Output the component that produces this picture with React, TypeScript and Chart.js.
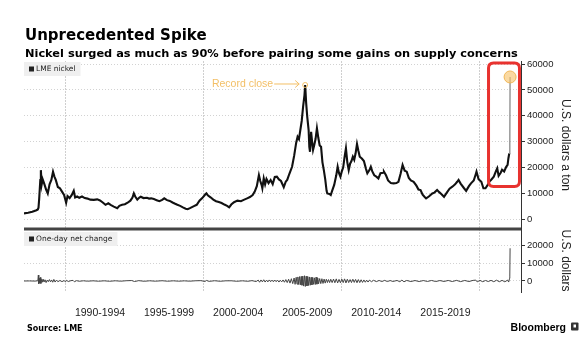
import React, { useEffect, useRef } from "react";
import { Chart, registerables } from "chart.js";

Chart.register(...registerables);

// ---------- data ----------
const priceYears = [
  1987.0, 1987.3, 1987.6, 1987.9, 1988.0, 1988.05, 1988.1, 1988.18, 1988.22, 1988.28,
  1988.35, 1988.45, 1988.6, 1988.72, 1988.85, 1988.98, 1989.1, 1989.2, 1989.3, 1989.45,
  1989.6, 1989.75, 1989.9, 1990.05, 1990.15, 1990.3, 1990.45, 1990.6, 1990.7, 1990.85,
  1991.0, 1991.2, 1991.4, 1991.6, 1991.8, 1992.05, 1992.3, 1992.5, 1992.7, 1992.9,
  1993.1, 1993.3, 1993.5, 1993.75, 1993.9, 1994.1, 1994.3, 1994.5, 1994.7, 1994.85,
  1994.95, 1995.05, 1995.2, 1995.35, 1995.45, 1995.65, 1995.9, 1996.05, 1996.2, 1996.4,
  1996.6, 1996.8, 1997.0, 1997.15, 1997.35, 1997.55, 1997.75, 1997.9, 1998.1, 1998.3,
  1998.5, 1998.7, 1998.85, 1999.05, 1999.3, 1999.5, 1999.7, 1999.9, 2000.1, 2000.2,
  2000.3, 2000.5, 2000.7, 2000.9, 2001.1, 2001.3, 2001.5, 2001.7, 2001.85, 2002.0,
  2002.2, 2002.45, 2002.7, 2002.9, 2003.15, 2003.35, 2003.55, 2003.7, 2003.85, 2004.0,
  2004.1, 2004.2, 2004.25, 2004.35, 2004.45, 2004.55, 2004.7, 2004.85, 2005.0, 2005.15,
  2005.3, 2005.45, 2005.6, 2005.8, 2005.95, 2006.05, 2006.2, 2006.4, 2006.55, 2006.7,
  2006.8, 2006.9, 2007.0, 2007.1, 2007.2, 2007.3, 2007.35, 2007.42, 2007.5, 2007.6,
  2007.65, 2007.7, 2007.78, 2007.85, 2007.92, 2008.0, 2008.1, 2008.2, 2008.3, 2008.4,
  2008.5, 2008.6, 2008.7, 2008.8, 2008.9, 2008.95, 2009.1, 2009.2, 2009.3, 2009.45,
  2009.6, 2009.7, 2009.8, 2009.9, 2010.0, 2010.1, 2010.2, 2010.3, 2010.4, 2010.5,
  2010.6, 2010.7, 2010.8, 2010.9, 2011.0, 2011.1, 2011.2, 2011.3, 2011.45, 2011.6,
  2011.75, 2011.85, 2012.0, 2012.1, 2012.2, 2012.35, 2012.5, 2012.65, 2012.8, 2013.0,
  2013.05, 2013.2, 2013.35, 2013.55, 2013.75, 2013.95, 2014.1, 2014.25, 2014.4, 2014.55,
  2014.7, 2014.85, 2015.0, 2015.2, 2015.4, 2015.55, 2015.7, 2015.85, 2016.0, 2016.1,
  2016.3, 2016.55, 2016.7, 2016.9, 2017.05, 2017.2, 2017.4, 2017.6, 2017.8, 2018.0,
  2018.2, 2018.35, 2018.45, 2018.6, 2018.85, 2019.0, 2019.2, 2019.35, 2019.55, 2019.7,
  2019.75, 2019.9, 2020.1, 2020.25, 2020.4, 2020.55, 2020.7, 2020.8, 2021.0, 2021.15,
  2021.25, 2021.35, 2021.5, 2021.6, 2021.75, 2021.9, 2022.0, 2022.06, 2022.12, 2022.16,
  2022.18,
];
const priceValues = [
  2300, 2500, 2900, 3500, 3800, 4500, 8000, 15200, 19000, 13500,
  15500, 14000, 11500, 10000, 13500, 15200, 18400, 16500, 15200, 12500,
  12000, 10700, 9400, 6400, 9000, 8200, 9300, 11000, 8400, 8800,
  8300, 8800, 8200, 8000, 7600, 7500, 7700, 7300, 6500, 5600,
  6200, 5500, 4900, 4300, 5200, 5600, 5800, 6400, 7200, 8400,
  10000, 8800, 7600, 8400, 8700, 8200, 8300, 8000, 8100, 7800,
  7400, 7000, 7500, 8100, 7400, 7100, 6500, 6100, 5600, 5200,
  4600, 4100, 3900, 4400, 5100, 5600, 7200, 8200, 9500, 10000,
  9300, 8500, 7600, 7000, 6700, 6300, 5700, 5200, 4600, 5700,
  6600, 7200, 7000, 7500, 8100, 8600, 9400, 10700, 12800, 17100,
  14800, 13200, 12000, 15800, 13500, 15600, 14000, 15200, 13600, 16400,
  16500, 15400, 14800, 12400, 14600, 15200, 17500, 20300, 24500, 29600,
  31900, 31000, 34500, 38000, 43500, 48000, 51900, 45000, 39600, 34500,
  28000, 26100, 33800, 30000, 26800, 28500, 31000, 35200, 31500, 28500,
  28000, 22000, 19000, 15500, 11000, 10000, 9800, 9400, 11000, 13300,
  17000, 20300, 17800, 16500, 18500, 20000, 24000, 27400, 22000, 19000,
  21500, 22500, 24200, 23000, 25500, 29100, 26500, 24200, 23500, 22500,
  19500, 17800, 19000, 20300, 18600, 17000, 16500, 15800, 17800, 18000,
  18400, 17000, 15000, 14000, 13900, 14000, 14500, 17500, 21000, 18800,
  18400, 16000, 15000, 14500, 13000, 11500, 11300, 9500, 8600, 8100,
  8800, 10000, 10300, 11300, 10500, 9800, 8700, 10300, 11800, 12600,
  13500, 14500, 15200, 13800, 12000, 11000, 12800, 13900, 15000, 17500,
  18400, 15500, 14500, 12000, 12000, 13200, 14700, 15200, 16500, 18500,
  19700, 16800, 18000, 19200, 18500, 20300, 21000, 23600, 25500, 29000,
  55000,
];

const changeYears = [
  1987.0, 1987.4, 1987.8, 1988.0, 1988.04, 1988.07, 1988.1, 1988.14, 1988.18, 1988.22,
  1988.27, 1988.32, 1988.38, 1988.45, 1988.52, 1988.6, 1988.68, 1988.76, 1988.84, 1988.92,
  1989.0, 1989.08, 1989.16, 1989.25, 1989.35, 1989.45, 1989.6, 1989.75, 1989.9, 1990.0,
  1990.08, 1990.2, 1990.4, 1990.55, 1990.65, 1990.8, 1991.0, 1991.3, 1991.6, 1992.0,
  1992.4, 1992.8, 1993.2, 1993.6, 1994.0, 1994.4, 1994.8, 1995.0, 1995.3, 1995.7,
  1996.1, 1996.5, 1997.0, 1997.4, 1997.8, 1998.2, 1998.6, 1999.0, 1999.4, 1999.8,
  2000.1, 2000.2, 2000.4, 2000.8, 2001.2, 2001.6, 2002.0, 2002.4, 2002.8, 2003.2,
  2003.5, 2003.8, 2003.95, 2004.05, 2004.15, 2004.25, 2004.35, 2004.45, 2004.55, 2004.65,
  2004.75, 2004.85, 2004.95, 2005.05, 2005.15, 2005.25, 2005.35, 2005.45, 2005.55, 2005.65,
  2005.75, 2005.85, 2005.95, 2006.05, 2006.15, 2006.25, 2006.35, 2006.45, 2006.55, 2006.62,
  2006.7, 2006.76, 2006.82, 2006.88, 2006.94, 2007.0, 2007.06, 2007.12, 2007.18, 2007.24,
  2007.3, 2007.36, 2007.42, 2007.48, 2007.54, 2007.6, 2007.66, 2007.72, 2007.78, 2007.84,
  2007.9, 2007.96, 2008.02, 2008.08, 2008.14, 2008.2, 2008.26, 2008.32, 2008.4, 2008.48,
  2008.56, 2008.64, 2008.72, 2008.8, 2008.88, 2008.96, 2009.04, 2009.12, 2009.2, 2009.3,
  2009.4, 2009.5, 2009.6, 2009.7, 2009.8, 2009.9, 2010.0, 2010.1, 2010.2, 2010.3,
  2010.4, 2010.5, 2010.6, 2010.7, 2010.8, 2010.9, 2011.0, 2011.1, 2011.2, 2011.3,
  2011.4, 2011.5, 2011.6, 2011.7, 2011.8, 2011.9, 2012.0, 2012.15, 2012.3, 2012.5,
  2012.7, 2012.9, 2013.1, 2013.3, 2013.5, 2013.7, 2014.0, 2014.2, 2014.35, 2014.5,
  2014.7, 2015.0, 2015.3, 2015.6, 2015.9, 2016.2, 2016.5, 2016.8, 2017.1, 2017.4,
  2017.7, 2018.0, 2018.3, 2018.6, 2018.9, 2019.2, 2019.5, 2019.7, 2019.8, 2020.0,
  2020.2, 2020.4, 2020.6, 2020.8, 2021.0, 2021.2, 2021.4, 2021.6, 2021.8, 2022.0,
  2022.08, 2022.14, 2022.16, 2022.18,
];
const changeValues = [
  0, 40, -50, 120, 3400, -1600, 1500, -1100, 2000, -1400,
  900, -700, 1100, -600, 700, -900, 500, -400, 800, -500,
  600, -700, 900, -600, 500, -400, 300, -350, 250, -500,
  400, -300, 200, 350, -450, 200, -150, 120, -100, 100,
  -120, 100, -150, 120, -100, 150, 250, -300, 200, -150,
  120, -100, 150, -120, 100, -100, 80, -90, 120, 200,
  -250, 300, -200, 150, -150, 100, 120, -150, 100, -150,
  200, -300, 500, -700, 600, -500, 700, -600, 450, -500,
  600, -400, 500, -450, 550, -400, 500, -600, 400, -500,
  600, -700, 800, -900, 1000, -1200, 1300, -1500, 1700, -1900,
  2100, -1800, 2300, -2000, 2500, -2200, 2600, -2400, 2800, -2900,
  3000, -3100, 2700, -2800, 2500, -2600, 2300, -2400, 2100, -2200,
  2000, -1900, 1800, -2000, 2200, -1800, 1700, -1600, 1400, -1500,
  1300, -1400, 1100, -1200, 1000, -900, 800, -900, 1000, -900,
  1100, -1000, 1200, -1100, 900, -1000, 1100, -900, 1200, -1100,
  1000, -900, 800, -900, 1000, -800, 900, -1000, 800, -900,
  700, -800, 600, -700, 500, -600, 500, -400, 400, -350,
  300, -300, 350, -300, 250, -250, 300, -400, 500, -450,
  300, -300, 250, -300, 250, -250, 300, -300, 250, -250,
  300, -300, 350, -350, 300, -300, 350, 500, -500, 350,
  -400, 300, -300, 350, -400, 450, -400, 350, -450, 500,
  -600, 1500, 2800, 18600,
];

const priceTicks = [0, 10000, 20000, 30000, 40000, 50000, 60000];
const changeTicks = [0, 10000, 20000];
const periodLabels = ["1990-1994", "1995-1999", "2000-2004", "2005-2009", "2010-2014", "2015-2019"];
const periodStarts = [1990, 1995, 2000, 2005, 2010, 2015];
const decadeLines = [1990, 2000, 2010, 2020];
const xRange = [1987, 2022.97];
const priceRange = [-3750, 61170];
const changeRange = [-6250, 29545];
const highlightYears = [2020.62, 2022.86];
const highlightValues = [12700, 60400];
const greySegmentsFrom = priceYears.length - 3;

const TITLE = "Unprecedented Spike";
const SUBTITLE = "Nickel surged as much as 90% before pairing some gains on supply concerns";
const SOURCE = "Source: LME";
const BRAND = "Bloomberg";
const RECORD_LABEL = "Record close";
const PRICE_LABEL = "LME nickel";
const CHANGE_LABEL = "One-day net change";
const PRICE_AXIS = "U.S. dollars a ton";
const CHANGE_AXIS = "U.S. dollars";

// ---------- drawing helpers ----------
const ORANGE = "#f3bf66";

function legendBox(ctx: CanvasRenderingContext2D, x: number, y: number, text: string) {
  ctx.font = '7.5px "DejaVu Sans"';
  const tw = ctx.measureText(text).width;
  const w = 5 + 5 + 2 + tw + 5;
  ctx.fillStyle = "#efefef";
  ctx.fillRect(x, y, w, 14);
  ctx.fillStyle = "#222";
  ctx.fillRect(x + 5, y + 4.5, 5, 5);
  ctx.textBaseline = "middle";
  ctx.textAlign = "left";
  ctx.fillText(text, x + 12, y + 7.5);
}

function roundRectPath(ctx: CanvasRenderingContext2D, x: number, y: number, w: number, h: number, r: number) {
  ctx.beginPath();
  ctx.moveTo(x + r, y);
  ctx.lineTo(x + w - r, y);
  ctx.quadraticCurveTo(x + w, y, x + w, y + r);
  ctx.lineTo(x + w, y + h - r);
  ctx.quadraticCurveTo(x + w, y + h, x + w - r, y + h);
  ctx.lineTo(x + r, y + h);
  ctx.quadraticCurveTo(x, y + h, x, y + h - r);
  ctx.lineTo(x, y + r);
  ctx.quadraticCurveTo(x, y, x + r, y);
  ctx.closePath();
}

const decorPlugin = {
  id: "decor",
  afterDraw(chart: any) {
    const ctx: CanvasRenderingContext2D = chart.ctx;
    const xs = chart.scales.x;
    const ys = chart.scales.y;
    const ys2 = chart.scales.y2;
    const area = chart.chartArea;
    ctx.save();

    // separator between panels
    ctx.strokeStyle = "#444";
    ctx.lineWidth = 3;
    ctx.beginPath();
    ctx.moveTo(area.left, ys.bottom);
    ctx.lineTo(area.right, ys.bottom);
    ctx.stroke();

    // legends
    legendBox(ctx, area.left, ys.top + 1, PRICE_LABEL);
    legendBox(ctx, area.left, ys2.top + 3, CHANGE_LABEL);

    // record close annotation
    let peakIdx = 0;
    priceValues.forEach((v, i) => {
      if (priceYears[i] < 2020 && v > priceValues[peakIdx]) peakIdx = i;
    });
    const px = xs.getPixelForValue(priceYears[peakIdx]);
    const py = ys.getPixelForValue(priceValues[peakIdx]);
    ctx.strokeStyle = ORANGE;
    ctx.fillStyle = ORANGE;
    ctx.lineWidth = 1;
    ctx.beginPath();
    ctx.arc(px, py, 2.5, 0, Math.PI * 2);
    ctx.stroke();
    const ay = py - 1;
    ctx.beginPath();
    ctx.moveTo(px - 31, ay);
    ctx.lineTo(px - 6, ay);
    ctx.moveTo(px - 10, ay - 3.5);
    ctx.lineTo(px - 6, ay);
    ctx.lineTo(px - 10, ay + 3.5);
    ctx.stroke();
    ctx.font = '10.5px "Liberation Sans"';
    ctx.textAlign = "right";
    ctx.textBaseline = "middle";
    ctx.fillText(RECORD_LABEL, px - 32, ay);

    // red highlight box
    const bx1 = xs.getPixelForValue(highlightYears[0]);
    const bx2 = xs.getPixelForValue(highlightYears[1]);
    const by1 = ys.getPixelForValue(highlightValues[1]);
    const by2 = ys.getPixelForValue(highlightValues[0]);
    ctx.strokeStyle = "#e8322f";
    ctx.lineWidth = 3;
    roundRectPath(ctx, bx1, by1, bx2 - bx1, by2 - by1, 5);
    ctx.stroke();

    // circle on the spike
    const last = priceYears.length - 1;
    const sx = xs.getPixelForValue(priceYears[last]);
    const sy = ys.getPixelForValue(priceValues[last]);
    ctx.beginPath();
    ctx.arc(sx, sy, 6, 0, Math.PI * 2);
    ctx.fillStyle = "rgba(247, 196, 110, 0.65)";
    ctx.fill();
    ctx.strokeStyle = "#efb658";
    ctx.lineWidth = 1;
    ctx.stroke();

    // titles
    ctx.textAlign = "left";
    ctx.textBaseline = "alphabetic";
    ctx.fillStyle = "#000";
    ctx.font = 'bold 15px "DejaVu Sans"';
    ctx.fillText(TITLE, 25, 39.5);
    ctx.font = 'bold 11.35px "DejaVu Sans"';
    ctx.fillText(SUBTITLE, 25, 57);
    ctx.font = 'bold 8px "DejaVu Sans"';
    ctx.fillText(SOURCE, 27, 330.5);
    ctx.font = 'bold 10.5px "Liberation Sans"';
    ctx.textAlign = "right";
    ctx.fillText(BRAND, 566, 330.5);
    ctx.fillStyle = "#333";
    roundRectPath(ctx, 571, 322.5, 7.5, 8, 1);
    ctx.fill();
    ctx.fillStyle = "#fff";
    ctx.fillRect(573.5, 324.5, 2.5, 3);

    ctx.restore();
  },
};

const tickFont = { family: "Liberation Sans", size: 9.5 };
const axisTitleFont = { family: "Liberation Sans", size: 12 };

export default function App() {
  const canvasRef = useRef<HTMLCanvasElement | null>(null);

  useEffect(() => {
    if (!canvasRef.current) return;
    const chart = new Chart(canvasRef.current, {
      type: "line",
      data: {
        datasets: [
          {
            label: PRICE_LABEL,
            data: priceYears.map((x, i) => ({ x, y: priceValues[i] })),
            xAxisID: "x",
            yAxisID: "y",
            borderColor: "#111",
            borderWidth: 2.1,
            pointRadius: 0,
            tension: 0,
            segment: {
              borderColor: (c: any) => (c.p0DataIndex >= greySegmentsFrom ? "#8a8a8a" : "#111"),
              borderWidth: (c: any) => (c.p0DataIndex >= greySegmentsFrom ? 1.3 : 2.1),
            },
          },
          {
            label: CHANGE_LABEL,
            data: changeYears.map((x, i) => ({ x, y: changeValues[i] })),
            xAxisID: "x",
            yAxisID: "y2",
            borderColor: "#444",
            borderWidth: 1,
            pointRadius: 0,
            tension: 0,
          },
        ],
      },
      options: {
        responsive: false,
        animation: false,
        devicePixelRatio: 1,
        events: [],
        layout: { padding: { left: 24, top: 61, right: 0, bottom: 0 } },
        plugins: {
          legend: { display: false },
          tooltip: { enabled: false },
          title: { display: false },
        },
        scales: {
          x: {
            type: "linear",
            position: "bottom",
            min: xRange[0],
            max: xRange[1],
            afterBuildTicks: (s: any) => {
              const vals = [...decadeLines, ...periodStarts.map((p) => p + 2.5)].sort((a, b) => a - b);
              s.ticks = vals.map((value) => ({ value }));
            },
            afterFit: (s: any) => {
              s.height = 59;
            },
            ticks: {
              autoSkip: false,
              maxRotation: 0,
              minRotation: 0,
              padding: 14.5,
              color: "#222",
              font: { family: "Liberation Sans", size: 10.5 },
              callback: (v: any) => {
                const i = periodStarts.findIndex((p) => Math.abs(p + 2.5 - Number(v)) < 1e-6);
                return i >= 0 ? periodLabels[i] : "";
              },
            },
            grid: {
              drawTicks: false,
              lineWidth: 1,
              color: (c: any) =>
                c.tick && decadeLines.includes(c.tick.value) ? "#cfcfcf" : "rgba(0,0,0,0)",
            },
            border: { display: false, dash: [2, 1] },
          },
          y: {
            type: "linear",
            position: "right",
            stack: "panels",
            stackWeight: 168,
            weight: 1,
            min: priceRange[0],
            max: priceRange[1],
            afterBuildTicks: (s: any) => {
              s.ticks = priceTicks.map((value) => ({ value }));
            },
            afterFit: (s: any) => {
              s.width = 62;
            },
            ticks: {
              padding: 2,
              color: "#222",
              font: tickFont,
              callback: (v: any) => String(v),
            },
            grid: {
              color: "#d2d2d2",
              tickColor: "#333",
              tickLength: 4,
              tickBorderDash: [],
            },
            border: { display: true, color: "#333", width: 1, dash: [1, 2] },
            title: {
              display: true,
              text: PRICE_AXIS,
              color: "#222",
              font: axisTitleFont,
              padding: { top: 10, bottom: 0 },
            },
          },
          y2: {
            type: "linear",
            position: "right",
            stack: "panels",
            stackWeight: 63,
            weight: 2,
            min: changeRange[0],
            max: changeRange[1],
            afterBuildTicks: (s: any) => {
              s.ticks = changeTicks.map((value) => ({ value }));
            },
            afterFit: (s: any) => {
              s.width = 62;
            },
            ticks: {
              padding: 2,
              color: "#222",
              font: tickFont,
              callback: (v: any) => String(v),
            },
            grid: {
              color: "#d2d2d2",
              tickColor: "#333",
              tickLength: 4,
              tickBorderDash: [],
            },
            border: { display: true, color: "#333", width: 1, dash: [1, 2] },
            title: {
              display: true,
              text: CHANGE_AXIS,
              color: "#222",
              font: axisTitleFont,
              padding: { top: 10, bottom: 0 },
            },
          },
        },
      } as any,
      plugins: [decorPlugin],
    });
    return () => chart.destroy();
  }, []);

  return (
    <div
      style={{
        position: "absolute",
        left: 0,
        top: 0,
        width: 583,
        height: 351,
        background: "#fff",
        overflow: "hidden",
      }}
    >
      <canvas ref={canvasRef} width={583} height={351} style={{ display: "block" }} />
    </div>
  );
}
